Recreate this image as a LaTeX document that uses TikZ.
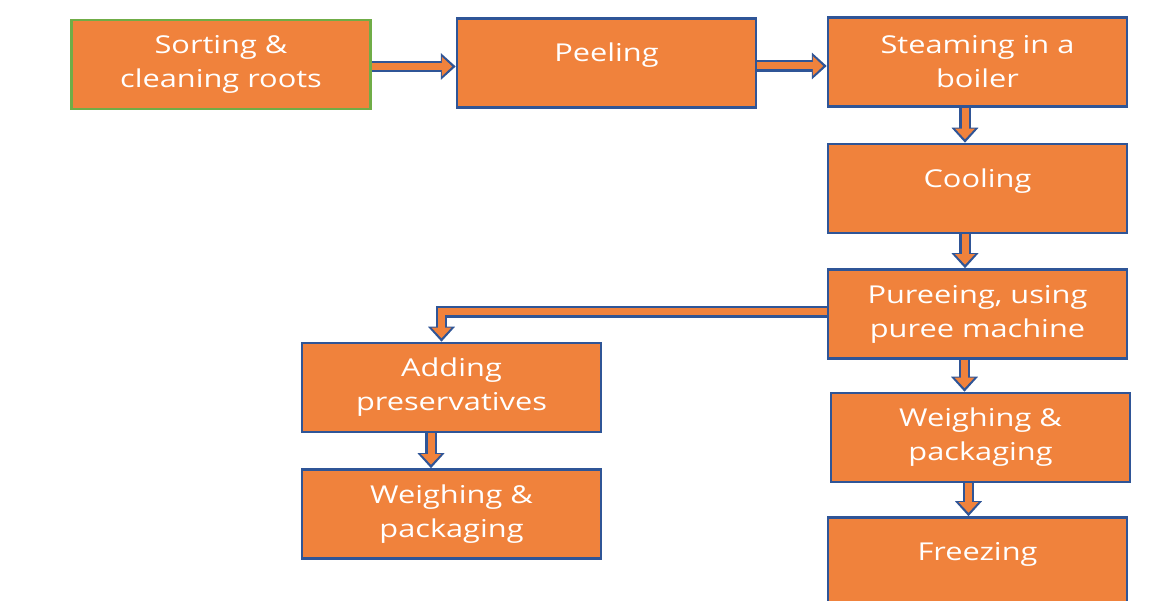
\documentclass[tikz,border=0pt]{standalone}
\usepackage{fontspec}
\setmainfont{Open Sans}[FakeStretch=1.25]
\usetikzlibrary{arrows.meta, positioning, calc}

\definecolor{boxorange}{RGB}{240,130,60}
\definecolor{boxblue}{RGB}{47,85,151}
\definecolor{boxgreen}{RGB}{112,173,71}

\tikzset{
  stepbox/.style={draw=boxblue, line width=0.05cm, fill=boxorange,
    minimum width=5.98cm, minimum height=1.78cm, align=center,
    text=white, font=\fontsize{14}{19.4}\selectfont},
  oneline/.style={text depth=0.42cm},
  outerarrow/.style={draw=boxblue, line width=0.23cm, line join=miter,
    -{Triangle[length=0.3cm, width=0.52cm]}},
  innerarrow/.style={draw=boxorange, line width=0.14cm, line join=miter,
    shorten >=0.07cm, -{Triangle[length=0.21cm, width=0.38cm]}}
}
\newcommand{\blockarrow}[1]{%
  \draw[outerarrow] #1;
  \draw[innerarrow] #1;}

\begin{document}
\begin{tikzpicture}
  \clip (0,0) rectangle (23,12.02);
  \useasboundingbox (0,0) rectangle (23,12.02);

  % top row
  \node[stepbox, draw=boxgreen] (sort) at (4.42,10.73) {Sorting \&\\cleaning roots};
  \node[stepbox, oneline] (peel) at (12.13,10.76) {Peeling};
  \node[stepbox] (steam) at (19.55,10.78) {Steaming in a\\boiler};

  % right column
  \node[stepbox, oneline, below=0.7cm of steam] (cool) {Cooling};
  \node[stepbox, below=0.68cm of cool] (puree) {Pureeing, using\\puree machine};
  \node[stepbox, below=0.64cm of puree, xshift=0.06cm] (weighr) {Weighing \&\\packaging};
  \node[stepbox, oneline, below=0.66cm of weighr, xshift=-0.06cm] (freeze) {Freezing};

  % left branch
  \node[stepbox] (add) at (9.03,4.27) {Adding\\preservatives};
  \node[stepbox, below=0.7cm of add] (weighl) {Weighing \&\\packaging};

  % arrows
  \blockarrow{([yshift=-0.04cm]sort.east) -- ([yshift=-0.04cm]sort.east -| peel.west)}
  \blockarrow{([yshift=-0.06cm]peel.east) -- ([yshift=-0.06cm]peel.east -| steam.west)}
  \blockarrow{([xshift=-0.25cm]steam.south) -- ([xshift=-0.25cm]cool.north)}
  \blockarrow{([xshift=-0.25cm]cool.south) -- ([xshift=-0.25cm]puree.north)}
  \blockarrow{([xshift=-0.26cm]puree.south) -- ([xshift=-0.26cm]puree.south |- weighr.north)}
  \blockarrow{([xshift=-0.24cm]weighr.south) -- ([xshift=-0.24cm]weighr.south |- freeze.north)}
  \blockarrow{([yshift=0.04cm]puree.west) -| ([xshift=-0.2cm]add.north)}
  \blockarrow{([xshift=-0.41cm]add.south) -- ([xshift=-0.41cm]weighl.north)}
\end{tikzpicture}
\end{document}
